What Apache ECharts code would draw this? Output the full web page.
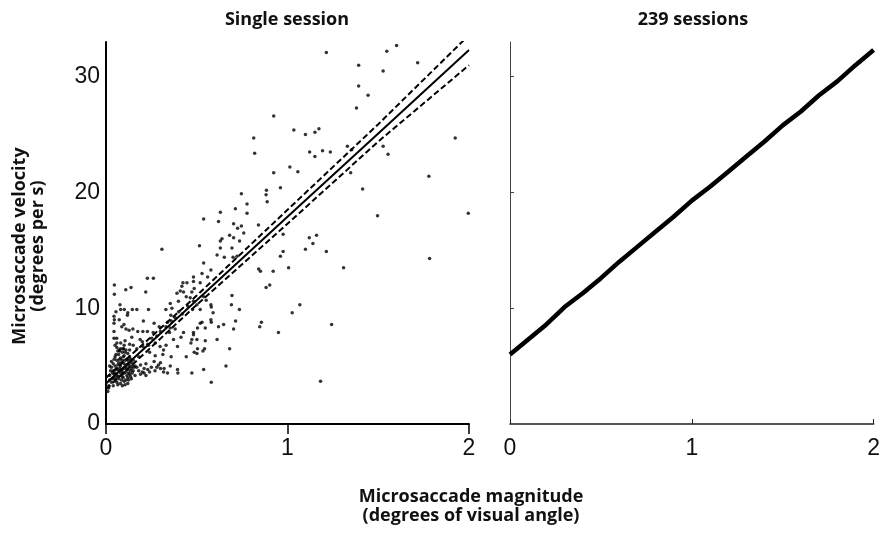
<!DOCTYPE html>
<html>
<head>
<meta charset="utf-8">
<script src="https://cdn.jsdelivr.net/npm/echarts@6/dist/echarts.min.js"></script>
<style>
  html, body { margin: 0; padding: 0; background: #fff; }
  #chart { width: 883px; height: 533px; }
</style>
</head>
<body>
<div id="chart"></div>
<script>
// single session: microsaccades [magnitude (deg), peak velocity (deg/s)]
const scatterPoints = [
  [1.214, 32.1], [1.601, 32.7], [1.547, 32.2], [1.717, 31.2], [1.392, 31.0], [1.527, 30.5],
  [1.392, 29.2], [1.444, 28.4], [1.380, 27.3], [1.035, 25.4], [1.099, 25.0], [1.151, 25.2],
  [1.173, 25.5], [1.122, 23.5], [1.151, 23.1], [1.193, 23.6], [1.236, 23.5], [1.330, 24.0],
  [1.354, 23.7], [1.527, 24.0], [1.554, 23.3], [1.924, 24.7], [1.779, 21.4], [1.414, 20.3],
  [1.013, 22.2], [1.057, 21.8], [0.961, 20.4], [1.496, 18.0], [1.996, 18.2], [1.348, 21.7],
  [0.976, 16.4], [1.120, 16.1], [1.160, 16.3], [1.140, 15.6], [1.099, 15.1], [0.976, 14.9],
  [0.961, 14.5], [1.214, 14.9], [1.006, 13.5], [1.309, 13.5], [1.783, 14.3], [1.068, 10.3],
  [1.026, 9.6], [1.243, 8.6], [1.182, 3.7],
  [0.924, 26.6], [0.814, 24.7], [0.819, 23.4], [0.924, 21.7], [0.884, 20.2], [0.882, 19.8],
  [0.888, 19.2], [0.746, 19.9], [0.777, 19.0], [0.713, 18.6], [0.777, 18.2], [0.630, 18.3],
  [0.538, 17.7]
];

const middlePoints = [
  [0.725, 16.9], [0.703, 17.3], [0.620, 17.5], [0.746, 17.1], [0.840, 17.2], [0.759, 16.5],
  [0.681, 16.3], [0.703, 16.1], [0.736, 15.8], [0.639, 16.0], [0.630, 15.8], [0.515, 15.4],
  [0.630, 15.2], [0.694, 15.2], [0.612, 14.6], [0.652, 14.4], [0.700, 14.4], [0.722, 14.5],
  [0.538, 13.9], [0.578, 13.3], [0.529, 13.0], [0.482, 12.7], [0.482, 12.3], [0.560, 12.7],
  [0.519, 12.2], [0.841, 13.4], [0.851, 13.2], [0.921, 13.2], [0.882, 11.8], [0.902, 12.0],
  [0.308, 15.1], [0.228, 12.6], [0.261, 12.6], [0.046, 12.0], [0.046, 11.2], [0.109, 11.6],
  [0.138, 11.8], [0.418, 11.9], [0.446, 12.2], [0.409, 11.5], [0.427, 11.4], [0.391, 11.3],
  [0.442, 11.0], [0.473, 11.4], [0.464, 10.9], [0.694, 11.1], [0.538, 11.0],
  [0.691, 10.3], [0.735, 9.9], [0.580, 10.1], [0.590, 9.6], [0.519, 9.9], [0.529, 8.8],
  [0.580, 8.8], [0.620, 8.4], [0.648, 8.6], [0.714, 8.9], [0.703, 8.2], [0.856, 8.8],
  [0.847, 8.4], [0.950, 7.9], [0.547, 7.2], [0.612, 7.3], [0.681, 6.5], [0.543, 6.5],
  [0.534, 6.3], [0.538, 4.7], [0.661, 5.0], [0.580, 3.6]
];

const lowPoints = [
  [0.442, 5.8], [0.473, 7.3], [0.473, 4.4], [0.501, 6.1], [0.504, 6.5], [0.354, 5.0],
  [0.396, 4.4], [0.359, 5.8], [0.394, 6.7], [0.331, 6.8], [0.313, 6.0], [0.289, 5.1],
  [0.317, 4.5], [0.271, 5.9], [0.354, 8.3], [0.350, 7.9], [0.381, 8.2], [0.413, 7.5],
  [0.427, 7.9], [0.372, 7.3], [0.317, 6.4], [0.504, 8.3], [0.519, 8.7], [0.547, 8.3],
  [0.578, 9.0], [0.482, 10.6], [0.501, 10.3], [0.552, 10.7], [0.578, 10.3], [0.482, 7.9],
  [0.482, 7.7], [0.501, 7.3], [0.424, 12.2], [0.486, 11.7], [0.399, 10.6], [0.354, 10.4],
  [0.363, 10.0], [0.170, 9.9], [0.145, 9.9], [0.120, 9.6], [0.077, 10.3], [0.081, 9.9],
  [0.055, 9.7], [0.101, 9.9], [0.046, 9.0], [0.044, 8.7], [0.044, 8.0], [0.073, 9.0],
  [0.087, 8.4], [0.110, 8.2], [0.127, 8.1], [0.148, 8.2], [0.142, 7.5], [0.175, 8.0],
  [0.206, 8.9], [0.234, 9.9], [0.203, 8.0], [0.188, 7.3], [0.203, 6.7], [0.252, 7.4],
  [0.234, 6.8], [0.271, 7.0], [0.298, 6.7], [0.044, 7.4], [0.059, 7.4], [0.081, 7.0],
  [0.105, 7.2], [0.096, 6.5], [0.073, 6.4], [0.050, 6.8], [0.219, 11.4], [0.118, 9.4],
  [0.044, 9.3], [0.099, 8.6], [0.228, 8.0], [0.265, 8.7], [0.293, 8.4], [0.339, 8.8],
  [0.357, 9.4], [0.330, 9.9], [0.477, 9.9], [0.468, 7.0], [0.486, 6.2], [0.394, 4.7],
  [0.339, 4.4], [0.320, 4.8], [0.265, 5.4]
];

const clusterPoints = [
  [0.03, 3.6], [0.04, 4.0], [0.05, 3.8], [0.06, 4.2], [0.07, 3.9], [0.08, 4.4], [0.09, 4.1],
  [0.10, 3.7], [0.11, 4.5], [0.12, 4.0], [0.13, 4.3], [0.14, 3.9], [0.15, 4.6], [0.04, 4.6],
  [0.05, 5.0], [0.06, 4.8], [0.07, 5.3], [0.08, 5.0], [0.09, 4.7], [0.10, 5.2], [0.11, 4.9],
  [0.12, 5.5], [0.13, 5.0], [0.14, 5.3], [0.03, 5.4], [0.05, 5.8], [0.06, 5.5], [0.07, 6.0],
  [0.08, 5.7], [0.09, 6.2], [0.10, 5.9], [0.11, 6.4], [0.12, 6.1], [0.06, 6.6], [0.06, 7.0],
  [0.065, 6.3], [0.07, 4.6], [0.08, 3.5], [0.09, 3.3], [0.04, 3.3], [0.02, 4.2], [0.02, 3.8],
  [0.03, 4.9], [0.05, 4.4], [0.07, 4.1], [0.09, 5.5], [0.10, 4.4], [0.11, 3.8], [0.12, 4.7],
  [0.13, 5.8], [0.14, 4.8], [0.15, 5.5], [0.16, 5.0], [0.16, 4.2], [0.08, 6.5], [0.10, 6.8],
  [0.04, 5.2], [0.06, 3.6], [0.12, 3.5], [0.13, 6.4], [0.015, 3.3], [0.02, 5.0], [0.055, 4.0],
  [0.075, 4.8], [0.085, 5.3], [0.095, 4.0], [0.105, 4.8], [0.115, 5.6], [0.125, 4.4],
  [0.135, 4.6], [0.145, 5.0], [0.035, 4.4], [0.045, 5.6], [0.055, 6.0], [0.085, 4.6],
  [0.095, 5.8], [0.105, 6.2], [0.115, 4.2], [0.125, 5.2], [0.135, 5.6], [0.01, 2.8], [0.015, 3.1],
  [0.035, 3.9], [0.045, 4.3], [0.055, 4.7], [0.065, 5.1], [0.075, 5.6], [0.085, 3.8],
  [0.095, 4.4], [0.105, 5.5], [0.115, 5.1], [0.125, 3.8], [0.135, 4.1], [0.145, 4.4],
  [0.025, 4.6], [0.065, 3.4], [0.105, 3.4], [0.155, 4.9], [0.075, 6.3], [0.095, 6.5]
];

const armPoints = [
  [0.17, 4.9], [0.18, 4.6], [0.19, 5.1], [0.20, 4.5], [0.21, 4.8], [0.22, 5.2], [0.21, 4.4],
  [0.23, 4.7], [0.24, 4.5], [0.25, 4.9], [0.19, 4.3], [0.22, 4.2], [0.27, 4.6], [0.28, 4.9],
  [0.30, 4.8], [0.30, 5.3],
  [0.17, 6.5], [0.20, 7.1], [0.23, 6.9], [0.26, 7.9], [0.28, 7.6], [0.30, 8.0], [0.33, 8.4],
  [0.36, 8.9], [0.38, 9.2], [0.40, 9.7], [0.42, 9.5], [0.45, 10.2], [0.15, 6.8], [0.13, 6.9],
  [0.18, 5.8], [0.24, 6.2]
];

// regression fit and its confidence band
const fitX = [0, 0.5, 1, 1.5, 2];
const fitY = [3.5, 10.7, 17.9, 25.1, 32.3];
const upperY = [4.0, 11.1, 18.5, 25.9, 33.6];
const lowerY = [3.0, 10.3, 17.3, 24.4, 31.0];

// mean relation over 239 sessions
const meanX = [0, 0.1, 0.2, 0.3, 0.4, 0.5, 0.6, 0.7, 0.8, 0.9, 1.0,
  1.1, 1.2, 1.3, 1.4, 1.5, 1.6, 1.7, 1.8, 1.9, 2.0];
const meanY = [6.0, 7.3, 8.6, 10.1, 11.3, 12.6, 14.0, 15.3, 16.6, 17.9, 19.3,
  20.5, 21.8, 23.1, 24.4, 25.8, 27.0, 28.4, 29.6, 31.0, 32.3];

const xTicks = [0, 1, 2];
const yTicks = [0, 10, 20, 30];

const pair = (xs, ys) => xs.map((x, i) => [x, ys[i]]);

const labelFont = {
  color: '#111',
  fontSize: 23,
  fontFamily: '"Liberation Sans", Arial, sans-serif'
};
const nameFont = {
  fill: '#111',
  fontSize: 18,
  fontWeight: 'bold',
  fontFamily: '"Open Sans", "Noto Sans", sans-serif'
};

const chart = echarts.init(document.getElementById('chart'), null, { renderer: 'canvas' });

const option = {
  animation: false,
  backgroundColor: '#fff',
  grid: [
    { left: 106, top: 42, width: 363, height: 382 },
    { left: 510, top: 42, width: 366, height: 382 }
  ],
  xAxis: [
    {
      gridIndex: 0, type: 'value', min: 0, max: 2, interval: 1,
      splitLine: { show: false },
      axisLine: { lineStyle: { color: '#000', width: 2 } },
      axisTick: { length: 10, lineStyle: { color: '#000', width: 1.5 } },
      axisLabel: Object.assign({ margin: 13, customValues: xTicks }, labelFont)
    },
    {
      gridIndex: 1, type: 'value', min: 0, max: 2, interval: 1,
      splitLine: { show: false },
      axisLine: { lineStyle: { color: '#222', width: 1.5 } },
      axisTick: { inside: true, length: 5, lineStyle: { color: '#222', width: 1 } },
      axisLabel: Object.assign({ margin: 13, customValues: xTicks }, labelFont)
    }
  ],
  yAxis: [
    {
      gridIndex: 0, type: 'value', min: 0, max: 33, interval: 10,
      splitLine: { show: false },
      axisLine: { show: true, lineStyle: { color: '#000', width: 2 } },
      axisTick: { show: false },
      axisLabel: Object.assign({ margin: 6, customValues: yTicks }, labelFont)
    },
    {
      gridIndex: 1, type: 'value', min: 0, max: 33, interval: 10,
      splitLine: { show: false },
      axisLine: { show: true, lineStyle: { color: '#444', width: 1 } },
      axisTick: { inside: true, length: 4, customValues: [10, 20, 30], lineStyle: { color: '#444' } },
      axisLabel: { show: false }
    }
  ],
  series: [
    {
      type: 'scatter', xAxisIndex: 0, yAxisIndex: 0,
      symbolSize: 3.5, itemStyle: { color: '#000' },
      data: [].concat(scatterPoints, middlePoints, lowPoints, clusterPoints, armPoints)
    },
    {
      type: 'line', xAxisIndex: 0, yAxisIndex: 0, showSymbol: false,
      lineStyle: { color: '#000', width: 2 },
      data: pair(fitX, fitY)
    },
    {
      type: 'line', xAxisIndex: 0, yAxisIndex: 0, showSymbol: false,
      lineStyle: { color: '#000', width: 2, type: [6, 3] },
      data: pair(fitX, upperY)
    },
    {
      type: 'line', xAxisIndex: 0, yAxisIndex: 0, showSymbol: false,
      lineStyle: { color: '#000', width: 2, type: [6, 3] },
      data: pair(fitX, lowerY)
    },
    {
      type: 'line', xAxisIndex: 1, yAxisIndex: 1, showSymbol: false,
      lineStyle: { color: '#000', width: 4.5 },
      data: pair(meanX, meanY)
    }
  ],
  graphic: [
    { type: 'text', x: 287, y: 20, style: Object.assign({ text: 'Single session', align: 'center', verticalAlign: 'middle' }, nameFont) },
    { type: 'text', x: 693, y: 20, style: Object.assign({ text: '239 sessions', align: 'center', verticalAlign: 'middle' }, nameFont) },
    {
      type: 'text', x: 29, y: 246, rotation: Math.PI / 2,
      style: Object.assign({ text: 'Microsaccade velocity\n(degrees per s)', align: 'center', verticalAlign: 'middle', lineHeight: 18 }, nameFont)
    },
    {
      type: 'text', x: 471, y: 506,
      style: Object.assign({ text: 'Microsaccade magnitude\n(degrees of visual angle)', align: 'center', verticalAlign: 'middle', lineHeight: 19 }, nameFont)
    }
  ]
};

chart.setOption(option);
</script>
</body>
</html>
